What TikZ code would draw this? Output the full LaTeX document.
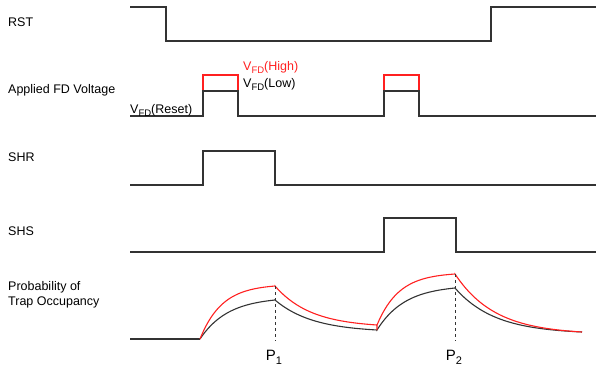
\documentclass[tikz,border=0pt]{standalone}
\usepackage{fontspec}
\setmainfont{Liberation Sans}
\usepackage{tikz}
\usetikzlibrary{positioning, calc}
\definecolor{WaveGray}{HTML}{333333}
\definecolor{HighRed}{HTML}{FF2020}
\newcommand{\vfd}{V\raisebox{-3pt}{\fontsize{9.5}{10}\selectfont FD}}
\newcommand{\psub}[1]{P\raisebox{-3.5pt}{\fontsize{11}{11}\selectfont #1}}

\begin{document}
\begin{tikzpicture}[
    x=1pt, y=-1pt,
    wave/.style={draw=WaveGray, line width=1.1pt, line join=miter},
    redwave/.style={draw=HighRed, line width=1.1pt, line join=miter},
    sig/.style={anchor=base west, inner sep=0pt, font=\fontsize{12.5}{15}\selectfont, align=left},
    vlabel/.style={anchor=base west, inner sep=0pt, font=\fontsize{12.5}{15}\selectfont},
    plabel/.style={anchor=base, inner sep=0pt, font=\fontsize{15}{17}\selectfont}
  ]
    \useasboundingbox (0,0) rectangle (596,373);

    % Signal names
    \node[sig] (rst) at (8,26) {RST};
    \node[sig] (fdv) at (8,93) {Applied FD Voltage};
    \node[sig] (shr) at (8,161) {SHR};
    \node[sig] (shs) at (8,235) {SHS};
    \node[sig] (prob) at (8,305.5) {Probability of\\Trap Occupancy};

    % RST
    \draw[wave] (130,7) -- (166,7) -- (166,41) -- (491,41) -- (491,7) -- (596,7);

    % Applied FD voltage
    \draw[redwave] (203,91) -- (203,75) -- (238,75) -- (238,91);
    \draw[redwave] (384,91) -- (384,75) -- (419,75) -- (419,91);
    \draw[wave] (130,116) -- (203,116) -- (203,91) -- (238,91) -- (238,116)
      -- (384,116) -- (384,91) -- (419,91) -- (419,116) -- (596,116);
    \node[vlabel, text=HighRed] (vhigh) at (243,70) {\vfd(High)};
    \node[vlabel] (vlow) at (243,87) {\vfd(Low)};
    \node[vlabel] (vreset) at (130,113) {\vfd(Reset)};

    % SHR and SHS
    \draw[wave] (130,185) -- (203,185) -- (203,151) -- (275,151) -- (275,185) -- (596,185);
    \draw[wave] (130,252) -- (384,252) -- (384,218) -- (456,218) -- (456,252) -- (596,252);

    % Trap occupancy
    \draw[wave] (130,339) -- (200,339);
    \draw[wave] plot[domain=0:75, samples=50] ({200+\x},{339-39*(1-exp(-\x/28))/(1-exp(-75/28))})
      -- plot[domain=0:102, samples=50] ({275+\x},{300+30*(1-exp(-\x/38))/(1-exp(-102/38))})
      -- plot[domain=0:78, samples=50] ({377+\x},{330-42*(1-exp(-\x/28))/(1-exp(-78/28))})
      -- plot[domain=0:127, samples=60] ({455+\x},{288+44*(1-exp(-\x/40))/(1-exp(-127/40))});
    \draw[redwave] plot[domain=0:75, samples=50] ({200+\x},{339-53*(1-exp(-\x/22))/(1-exp(-75/22))})
      -- plot[domain=0:102, samples=50] ({275+\x},{286+39*(1-exp(-\x/36))/(1-exp(-102/36))})
      -- (377,330)
      -- plot[domain=0:78, samples=50] ({377+\x},{325-51*(1-exp(-\x/22))/(1-exp(-78/22))})
      -- plot[domain=0:127, samples=60] ({455+\x},{274+58*(1-exp(-\x/40))/(1-exp(-127/40))});

    % Sampling points
    \coordinate (pk1) at (275,286);
    \coordinate (pk2) at (455,274);
    \node[plabel] (p1) at (274,360.5) {\psub{1}};
    \node[plabel] (p2) at (454,360.5) {\psub{2}};
    \draw[WaveGray, dashed, line width=0.8pt] (pk1) -- (275,341);
    \draw[WaveGray, dashed, line width=0.8pt] (pk2) -- (455,341);

  \end{tikzpicture}
\end{document}
